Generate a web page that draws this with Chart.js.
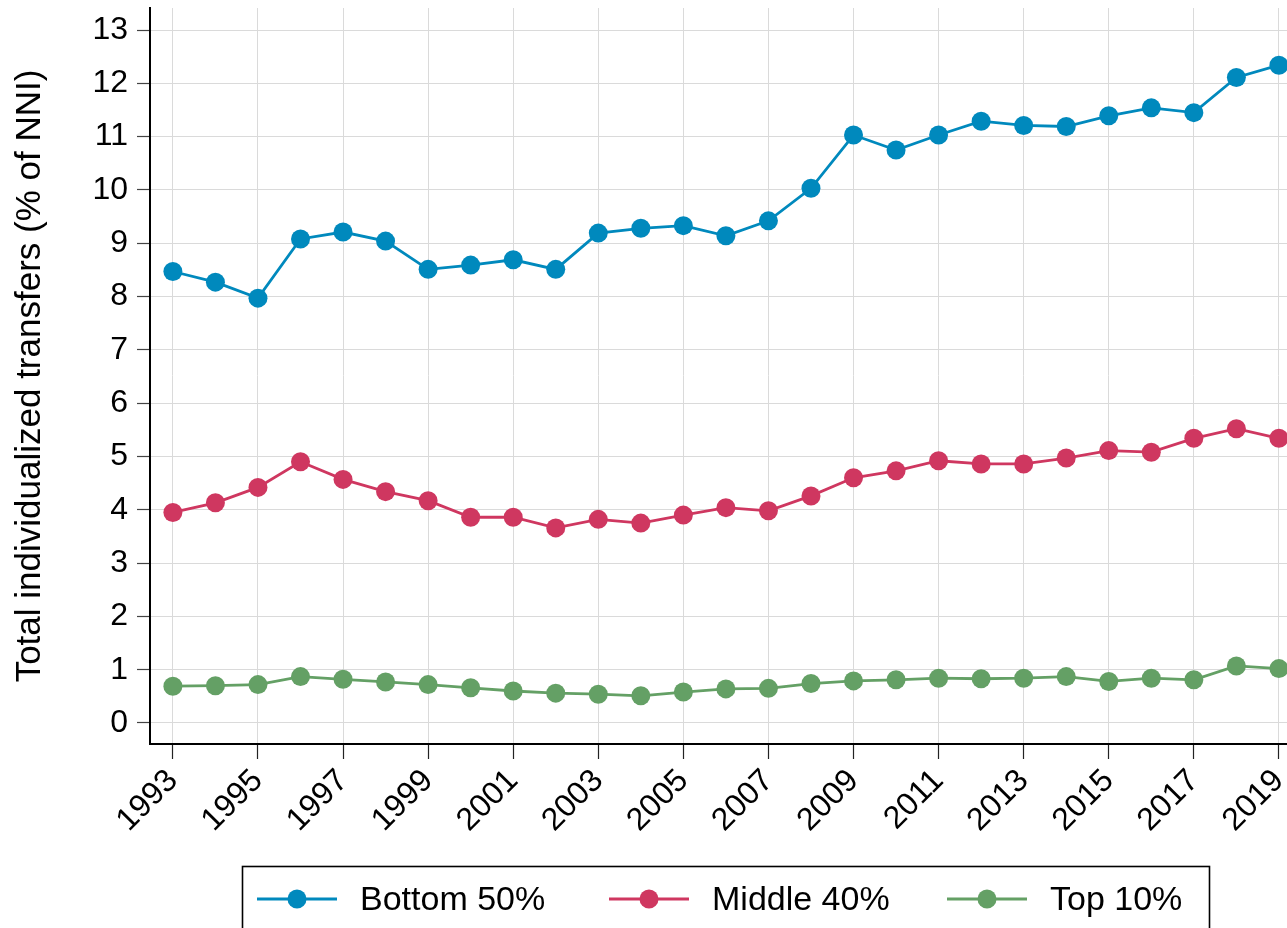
<!DOCTYPE html>
<html>
<head>
<meta charset="utf-8">
<title>Total individualized transfers</title>
<script src="https://cdn.jsdelivr.net/npm/chart.js@4.4.1/dist/chart.umd.min.js"></script>
<style>
  html, body { margin: 0; padding: 0; background: #fff; }
  #wrap { width: 1287px; height: 928px; overflow: hidden; }
</style>
</head>
<body>
<div id="wrap"><canvas id="chart" width="1287" height="928"></canvas></div>
<script>
'use strict';

// ── Data ─────────────────────────────────────────────────────────────────────

const years = [1993, 1994, 1995, 1996, 1997, 1998, 1999, 2000, 2001, 2002, 2003, 2004, 2005,
  2006, 2007, 2008, 2009, 2010, 2011, 2012, 2013, 2014, 2015, 2016, 2017, 2018, 2019];

const bottom50 = [8.47, 8.27, 7.97, 9.08, 9.21, 9.04, 8.51, 8.59, 8.69, 8.51, 9.19, 9.28, 9.33,
  9.14, 9.42, 10.03, 11.03, 10.75, 11.03, 11.29, 11.21, 11.19, 11.39, 11.54, 11.45, 12.11, 12.34];

const middle40 = [3.95, 4.13, 4.42, 4.90, 4.57, 4.34, 4.17, 3.86, 3.86, 3.66, 3.82, 3.75, 3.90,
  4.04, 3.98, 4.26, 4.60, 4.73, 4.92, 4.86, 4.86, 4.97, 5.11, 5.08, 5.34, 5.52, 5.34];

const top10 = [0.69, 0.70, 0.72, 0.87, 0.82, 0.77, 0.72, 0.66, 0.60, 0.56, 0.54, 0.51, 0.58,
  0.64, 0.65, 0.74, 0.79, 0.81, 0.84, 0.83, 0.84, 0.87, 0.78, 0.84, 0.81, 1.07, 1.02];

const seriesLabels = ['Bottom 50%', 'Middle 40%', 'Top 10%'];
const seriesColors = ['#0089bd', '#cf3760', '#64a065'];

const xTickYears = [1993, 1995, 1997, 1999, 2001, 2003, 2005, 2007, 2009, 2011, 2013, 2015, 2017, 2019];
const yTickValues = [0, 1, 2, 3, 4, 5, 6, 7, 8, 9, 10, 11, 12, 13];

// ── Helpers ──────────────────────────────────────────────────────────────────

const FONT = "'Liberation Sans', Arial, sans-serif";

function toPoints(values) {
  return values.map((v, i) => ({ x: years[i], y: v }));
}

function makeDataset(label, values, color) {
  return {
    label,
    data: toPoints(values),
    borderColor: color,
    backgroundColor: color,
    pointBackgroundColor: color,
    pointBorderWidth: 0,
    pointRadius: 9.5,
    pointHoverRadius: 9.5,
    borderWidth: 2.8,
    tension: 0,
    clip: 12,
  };
}

// legend box drawn in canvas below the axis
const legendBox = {
  id: 'legendBox',
  afterDraw(chart) {
    const ctx = chart.ctx;
    const starts = [257, 609, 947];
    const y = 899;
    ctx.save();
    ctx.strokeStyle = '#000';
    ctx.lineWidth = 1.6;
    ctx.strokeRect(242.5, 866.5, 967, 80);
    chart.data.datasets.forEach((ds, i) => {
      const x0 = starts[i];
      ctx.strokeStyle = ds.borderColor;
      ctx.lineWidth = 3;
      ctx.beginPath();
      ctx.moveTo(x0, y);
      ctx.lineTo(x0 + 80, y);
      ctx.stroke();
      ctx.fillStyle = ds.borderColor;
      ctx.beginPath();
      ctx.arc(x0 + 40, y, 9.5, 0, Math.PI * 2);
      ctx.fill();
      ctx.fillStyle = '#000';
      ctx.font = `34px ${FONT}`;
      ctx.textAlign = 'left';
      ctx.textBaseline = 'middle';
      ctx.fillText(ds.label, x0 + 103, y + 2);
    });
    ctx.restore();
  },
};

// ── Chart ────────────────────────────────────────────────────────────────────

const ctx = document.getElementById('chart').getContext('2d');
new Chart(ctx, {
  type: 'line',
  data: {
    datasets: [
      makeDataset(seriesLabels[0], bottom50, seriesColors[0]),
      makeDataset(seriesLabels[1], middle40, seriesColors[1]),
      makeDataset(seriesLabels[2], top10, seriesColors[2]),
    ],
  },
  options: {
    responsive: false,
    devicePixelRatio: 1,
    animation: false,
    layout: { autoPadding: false, padding: { top: 8, left: 0, right: 0, bottom: 0 } },
    plugins: {
      legend: { display: false },
      tooltip: { enabled: false },
    },
    scales: {
      x: {
        type: 'linear',
        min: 1992.462,
        max: 2019.19,
        afterBuildTicks: s => { s.ticks = xTickYears.map(v => ({ value: v })); },
        afterFit: s => { s.height = 184; s.paddingLeft = 0; s.paddingRight = 0; },
        ticks: {
          autoSkip: false,
          minRotation: 45,
          maxRotation: 45,
          padding: 3,
          color: '#000',
          font: { family: FONT, size: 32 },
          callback: v => String(v),
        },
        grid: {
          color: '#dadada',
          lineWidth: 1,
          tickLength: 15,
          tickColor: '#222',
          tickWidth: 1.2,
        },
        border: { color: '#000', width: 2 },
      },
      y: {
        min: -0.394,
        max: 13.413,
        afterBuildTicks: s => { s.ticks = yTickValues.map(v => ({ value: v })); },
        afterFit: s => { s.width = 150; s.paddingTop = 0; s.paddingBottom = 0; },
        ticks: {
          padding: 9,
          color: '#000',
          font: { family: FONT, size: 32 },
        },
        grid: {
          color: '#dadada',
          lineWidth: 1,
          tickLength: 13,
          tickColor: '#444',
          tickWidth: 1.2,
        },
        border: { color: '#000', width: 2 },
        title: {
          display: true,
          text: 'Total individualized transfers (% of NNI)',
          color: '#000',
          font: { family: FONT, size: 35 },
          padding: { top: 9, bottom: 0 },
        },
      },
    },
  },
  plugins: [legendBox],
});
</script>
</body>
</html>
